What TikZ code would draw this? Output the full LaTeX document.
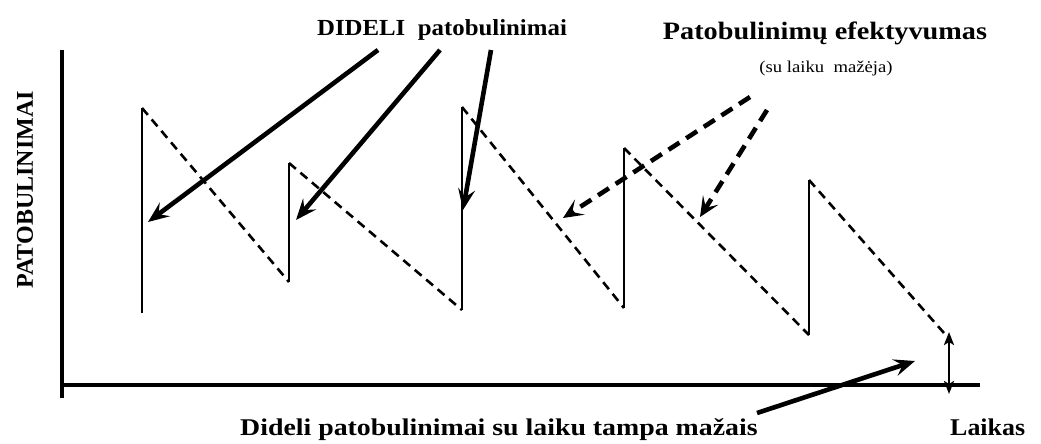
\documentclass[tikz,border=0pt]{standalone}
\usepackage{fontspec}
\setmainfont{Liberation Serif}
\usetikzlibrary{arrows.meta}
\tikzset{
  axisline/.style={line width=3.8pt},
  riseline/.style={line width=2.6pt},
  fallline/.style={line width=2.6pt, dash pattern=on 9pt off 6pt},
  bigarrow/.style={line width=4.6pt, -{Stealth[length=21pt,width=17pt,inset=8pt]}},
  dasharrow/.style={line width=4.6pt, dash pattern=on 13pt off 8pt, -{Stealth[length=20pt,width=18pt,inset=9pt]}},
  smallarrow/.style={line width=2.8pt, {Stealth[length=13pt,width=10pt,inset=3pt]}-{Stealth[length=13pt,width=10pt,inset=3pt]}},
  lbl/.style={inner sep=0pt, font=\bfseries\fontsize{24pt}{29pt}\selectfont}
}
\begin{document}
\begin{tikzpicture}[x=1pt,y=-1pt]
\useasboundingbox[fill=white] (0,0) rectangle (1041,444);
% axes
\coordinate (ytop) at (62,50);
\coordinate (ybot) at (62,398);
\coordinate (xstart) at (62,385);
\coordinate (xend) at (980,385);
\draw[axisline] (ybot) -- (ytop);
\draw[axisline] (xstart) -- (xend);
% sawtooth points
\coordinate (v1t) at (142,108); \coordinate (v1b) at (142,313);
\coordinate (v2t) at (289,163); \coordinate (v2b) at (289,282);
\coordinate (v3t) at (462,107); \coordinate (v3b) at (462,310);
\coordinate (v4t) at (624,148); \coordinate (v4b) at (624,308);
\coordinate (v5t) at (809,180); \coordinate (v5b) at (809,335);
\coordinate (vend) at (944,333);
\foreach \i in {1,...,5} { \draw[riseline] (v\i b) -- (v\i t); }
\draw[fallline] (v1t) -- (v2b);
\draw[fallline] (v2t) -- (v3b);
\draw[fallline] (v3t) -- (v4b);
\draw[fallline] (v4t) -- (v5b);
\draw[fallline] (v5t) -- (vend);
% texts
\node[lbl, font=\bfseries\fontsize{23pt}{28pt}\selectfont, anchor=base] (didl) at (442,36) {\scalebox{1.08}[1]{DIDELI\ \ patobulinimai}};
\node[lbl, anchor=base] (efek) at (825,40) {\fontsize{25pt}{30pt}\selectfont\scalebox{1.13}[1]{Patobulinimų efektyvumas}};
\node[inner sep=0pt, anchor=base] (subt) at (826,72) {\fontsize{16.5pt}{20pt}\selectfont\scalebox{1.13}[1]{(su laiku\ \ mažėja)}};
\node[lbl, anchor=base west] (bottomtxt) at (240,435) {\scalebox{1.16}[1]{Dideli patobulinimai su laiku tampa mažais}};
\node[lbl, anchor=base west] (laikas) at (950,435) {\scalebox{1.08}[1]{Laikas}};
\node[lbl, rotate=90] (ylabel) at (25,190) {PATOBULINIMAI};
% arrows from DIDELI
\coordinate (a1s) at (378,50); \coordinate (a1e) at (148,222);
\coordinate (a2s) at (440,50); \coordinate (a2e) at (296,220);
\coordinate (a3s) at (491,50); \coordinate (a3e) at (463,210);
\draw[bigarrow] (a1s) -- (a1e);
\draw[bigarrow] (a2s) -- (a2e);
\draw[bigarrow] (a3s) -- (a3e);
% dashed arrows from efektyvumas
\coordinate (d1s) at (750,97); \coordinate (d1e) at (563,218);
\coordinate (d2s) at (767,110); \coordinate (d2e) at (700,217);
\draw[dasharrow] (d1s) -- (d1e);
\draw[dasharrow] (d2s) -- (d2e);
% bottom arrow
\coordinate (bs) at (757,413); \coordinate (be) at (915,361);
\draw[bigarrow] (bs) -- (be);
% double arrow
\coordinate (ht) at (949,332); \coordinate (hb) at (949,394);
\draw[smallarrow] (hb) -- (ht);
\end{tikzpicture}
\end{document}
